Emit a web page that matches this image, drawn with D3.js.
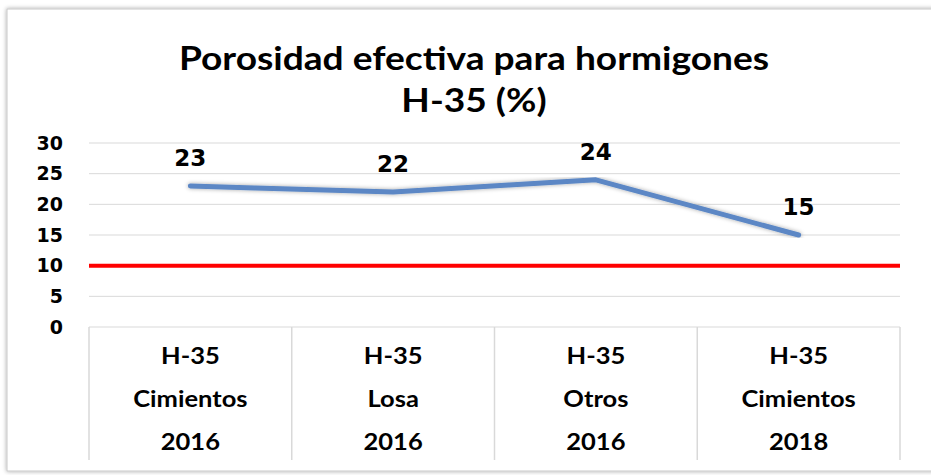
<!DOCTYPE html>
<html>
<head>
<meta charset="utf-8">
<script src="https://cdn.jsdelivr.net/npm/d3@7"></script>
<style>
  body { margin: 0; background: #fff; }
  svg { display: block; }
</style>
</head>
<body>
<div id="chart"></div>
<script>
// data
var categories = ["H-35|Cimientos|2016", "H-35|Losa|2016", "H-35|Otros|2016", "H-35|Cimientos|2018"];
var values = [23, 22, 24, 15];
var limitValue = 10;
var yTicks = [0, 5, 10, 15, 20, 25, 30];
var titleLines = ["Porosidad efectiva para hormigones", "H-35 (%)"];

var w = 931, h = 475;
var margin = {top: 143, right: 31, bottom: 148, left: 89};
var stretch = 1.16; // source image is a bit wide

var svg = d3.select("#chart").append("svg")
    .attr("width", w)
    .attr("height", h);

// frame with soft shadow
var defs = svg.append("defs");
var f = defs.append("filter").attr("id", "shadow").attr("x", "-5%").attr("y", "-5%").attr("width", "110%").attr("height", "110%");
f.append("feDropShadow").attr("dx", 0).attr("dy", 0).attr("stdDeviation", 2).attr("flood-color", "#000").attr("flood-opacity", 0.35);

svg.append("rect")
    .attr("x", 7).attr("y", 9)
    .attr("width", w + 20).attr("height", 462)
    .attr("fill", "#fff")
    .attr("stroke", "#c8c8c8")
    .attr("filter", "url(#shadow)");

var x = d3.scaleBand()
    .domain(categories)
    .range([margin.left, w - margin.right])
    .padding(0);

var y = d3.scaleLinear()
    .domain([0, 30])
    .range([h - margin.bottom, margin.top]);

// Title
svg.selectAll("text.title")
    .data(titleLines)
    .enter()
    .append("text")
    .attr("class", "title")
    .attr("x", 0)
    .attr("y", 0)
    .attr("transform", function(d, i) { return "translate(474," + (70 + i * 42) + ") scale(" + stretch + ",1)"; })
    .attr("text-anchor", "middle")
    .style("font-family", "Lato, 'Open Sans', sans-serif")
    .style("font-weight", "bold")
    .style("font-size", "32px")
    .attr("fill", "#000")
    .text(function(d) { return d; });

// gridlines
svg.append("g")
    .selectAll("line")
    .data(yTicks.filter(function(d) { return d > 0; }))
    .enter()
    .append("line")
    .attr("x1", margin.left)
    .attr("x2", w - margin.right)
    .attr("y1", function(d) { return y(d); })
    .attr("y2", function(d) { return y(d); })
    .attr("stroke", "#d9d9d9")
    .attr("stroke-width", 1);

// Y axis
var yAxis = d3.axisLeft(y).tickValues(yTicks).tickSize(0).tickPadding(0);
var gy = svg.append("g")
    .attr("transform", "translate(63,0)")
    .call(yAxis);
gy.select(".domain").remove();
gy.selectAll("text")
    .style("font-family", "'DejaVu Sans', sans-serif")
    .style("font-weight", "bold")
    .style("font-size", "19px")
    .attr("fill", "#000");

// category table
var y0 = y(0);
svg.append("line")
    .attr("x1", margin.left).attr("x2", w - margin.right)
    .attr("y1", y0).attr("y2", y0)
    .attr("stroke", "#d9d9d9");
svg.append("g")
    .selectAll("line")
    .data(categories.concat(["end"]))
    .enter()
    .append("line")
    .attr("x1", function(d, i) { return margin.left + i * x.bandwidth(); })
    .attr("x2", function(d, i) { return margin.left + i * x.bandwidth(); })
    .attr("y1", y0)
    .attr("y2", 460)
    .attr("stroke", "#d9d9d9")
    .attr("stroke-width", 1.5);

var catG = svg.append("g")
    .selectAll("g")
    .data(categories)
    .enter()
    .append("g")
    .attr("transform", function(d) { return "translate(" + (x(d) + x.bandwidth() / 2) + ",0) scale(" + stretch + ",1)"; });
catG.selectAll("text")
    .data(function(d) { return d.split("|"); })
    .enter()
    .append("text")
    .attr("x", 0)
    .attr("y", function(d, i) { return 364 + i * 43; })
    .attr("text-anchor", "middle")
    .style("font-family", "Lato, 'Open Sans', sans-serif")
    .style("font-weight", "bold")
    .style("font-size", "22px")
    .attr("fill", "#000")
    .text(function(d) { return d; });

// limit line
svg.append("line")
    .attr("x1", margin.left)
    .attr("x2", w - margin.right)
    .attr("y1", y(limitValue))
    .attr("y2", y(limitValue))
    .attr("stroke", "#ff0000")
    .attr("stroke-width", 4);

// series line
var line = d3.line()
    .x(function(d, i) { return x(categories[i]) + x.bandwidth() / 2; })
    .y(function(d) { return y(d); });

svg.append("path")
    .datum(values)
    .attr("d", line)
    .attr("fill", "none")
    .attr("stroke", "#5b87c5")
    .attr("stroke-width", 5)
    .attr("stroke-linecap", "round")
    .attr("stroke-linejoin", "round")
    .attr("filter", "url(#shadow)");

// data labels
svg.append("g")
    .selectAll("text")
    .data(values)
    .enter()
    .append("text")
    .attr("x", function(d, i) { return x(categories[i]) + x.bandwidth() / 2; })
    .attr("y", function(d) { return y(d) - 20; })
    .attr("text-anchor", "middle")
    .style("font-family", "'DejaVu Sans', sans-serif")
    .style("font-weight", "bold")
    .style("font-size", "23px")
    .attr("fill", "#000")
    .text(function(d) { return d; });
</script>
</body>
</html>
